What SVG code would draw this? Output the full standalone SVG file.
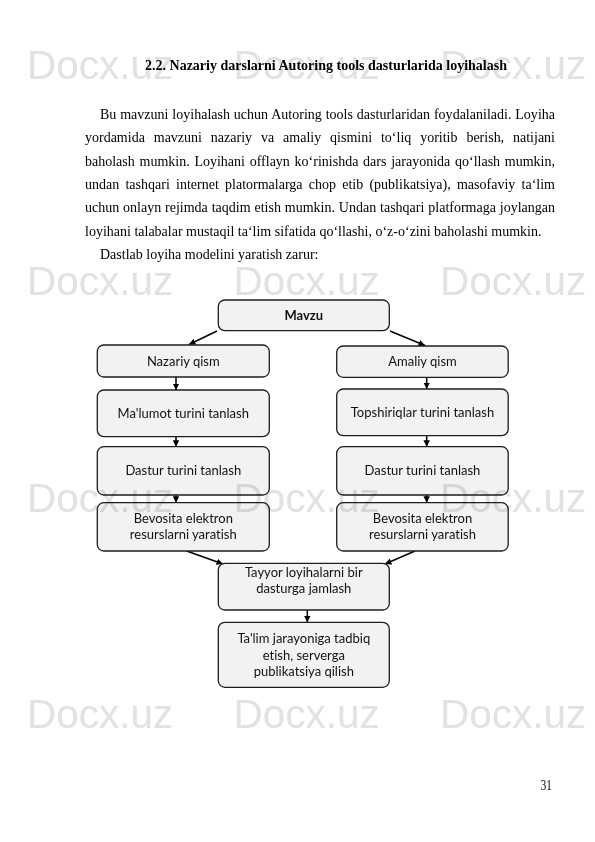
<svg xmlns="http://www.w3.org/2000/svg" width="595" height="842" viewBox="0 0 595 842">
<defs>
<style>
.body{font-family:"Liberation Serif","Times New Roman",serif;font-size:14px;fill:#000}
.title{font-family:"Liberation Serif","Times New Roman",serif;font-size:14px;font-weight:bold;fill:#000}
.box{fill:#f2f2f2;stroke:#1e1e1e;stroke-width:1.3}
.lbl{font-family:Lato,"Liberation Sans",sans-serif;font-size:13px;fill:#111;text-anchor:middle;font-variant-ligatures:none}
.bold{font-weight:bold}
.conn{stroke:#000;stroke-width:1.5;fill:none;marker-end:url(#ah)}
.wm{font-family:"Liberation Sans",Arial,sans-serif;font-size:40.5px;fill:#e2e2e2}
</style>
<marker id="ah" viewBox="0 0 8 8" refX="8" refY="4" markerWidth="6.5" markerHeight="6.5" markerUnits="userSpaceOnUse" orient="auto">
<path d="M0,0 L8,4 L0,8 z" fill="#000"/>
</marker>
</defs>
<rect x="0" y="0" width="595" height="842" fill="#fff"/>

<g id="page-text">
<text class="title" x="145" y="70" textLength="362" lengthAdjust="spacingAndGlyphs">2.2. Nazariy darslarni Autoring tools dasturlarida loyihalash</text>
<text class="body" x="100" y="119" word-spacing="0.35" textLength="455" lengthAdjust="spacing">Bu mavzuni loyihalash uchun Autoring tools dasturlaridan foydalaniladi. Loyiha</text>
<text class="body" x="85" y="142.3" word-spacing="5.4" textLength="470" lengthAdjust="spacing">yordamida mavzuni nazariy va amaliy qismini to‘liq yoritib berish, natijani</text>
<text class="body" x="85" y="165.7" word-spacing="1.2" textLength="470" lengthAdjust="spacing">baholash mumkin. Loyihani offlayn ko‘rinishda dars jarayonida qo‘llash mumkin,</text>
<text class="body" x="85" y="189" word-spacing="2.7" textLength="470" lengthAdjust="spacing">undan tashqari internet platormalarga chop etib (publikatsiya), masofaviy ta‘lim</text>
<text class="body" x="85" y="212.3" word-spacing="0.38" textLength="470" lengthAdjust="spacing">uchun onlayn rejimda taqdim etish mumkin. Undan tashqari platformaga joylangan</text>
<text class="body" x="85" y="235.7">loyihani talabalar mustaqil ta‘lim sifatida qo‘llashi, o‘z-o‘zini baholashi mumkin.</text>
<text class="body" x="100" y="259">Dastlab loyiha modelini yaratish zarur:</text>
<text class="body" x="540.7" y="790" font-size="13" textLength="11" lengthAdjust="spacingAndGlyphs">31</text>
</g>

<g id="connectors">
<path class="conn" d="M217,331 L189,344.5"/>
<path class="conn" d="M390,331 L425,345.5"/>
<path class="conn" d="M176,377 V390"/>
<path class="conn" d="M176,436.7 V446.7"/>
<path class="conn" d="M176,495 V502.7"/>
<path class="conn" d="M426.7,377.3 V389"/>
<path class="conn" d="M426.7,435.7 V446.7"/>
<path class="conn" d="M426.7,495 V502.7"/>
<path class="conn" d="M186.7,551 L223,564"/>
<path class="conn" d="M415,551 L385,564"/>
<path class="conn" d="M307.3,610 V622.3"/>
</g>

<g id="node-mavzu">
<rect class="box" x="218.3" y="300" width="171" height="30.7" rx="6.5"/>
<text class="lbl bold" x="303.8" y="320">Mavzu</text>
</g>
<g id="node-nazariy">
<rect class="box" x="97.3" y="345" width="172" height="32" rx="6.5"/>
<text class="lbl" x="183.3" y="365.5">Nazariy qism</text>
</g>
<g id="node-amaliy">
<rect class="box" x="336.7" y="346" width="171.5" height="31.3" rx="6.5"/>
<text class="lbl" x="422.5" y="366">Amaliy qism</text>
</g>
<g id="node-malumot">
<rect class="box" x="97.3" y="390" width="172" height="46.7" rx="6.5"/>
<text class="lbl" x="183.3" y="418">Ma'lumot turini tanlash</text>
</g>
<g id="node-topshiriq">
<rect class="box" x="336.7" y="389" width="171.5" height="46.7" rx="6.5"/>
<text class="lbl" x="422.5" y="417">Topshiriqlar turini tanlash</text>
</g>
<g id="node-dastur-l">
<rect class="box" x="97.3" y="446.7" width="172" height="48.3" rx="6.5"/>
<text class="lbl" x="183.3" y="475">Dastur turini tanlash</text>
</g>
<g id="node-dastur-r">
<rect class="box" x="336.7" y="446.7" width="171.5" height="48.3" rx="6.5"/>
<text class="lbl" x="422.5" y="475">Dastur turini tanlash</text>
</g>
<g id="node-bevosita-l">
<rect class="box" x="97.3" y="502.7" width="172" height="48.3" rx="6.5"/>
<text class="lbl" x="183.3" y="522.7">Bevosita elektron</text>
<text class="lbl" x="183.3" y="539.3">resurslarni yaratish</text>
</g>
<g id="node-bevosita-r">
<rect class="box" x="336.7" y="502.7" width="171.5" height="48.3" rx="6.5"/>
<text class="lbl" x="422.5" y="522.7">Bevosita elektron</text>
<text class="lbl" x="422.5" y="539.3">resurslarni yaratish</text>
</g>
<g id="node-tayyor">
<rect class="box" x="218.3" y="563.3" width="171" height="46.7" rx="6.5"/>
<text class="lbl" x="303.8" y="576.5">Tayyor loyihalarni bir</text>
<text class="lbl" x="303.8" y="593">dasturga jamlash</text>
</g>
<g id="node-talim">
<rect class="box" x="218.3" y="622.3" width="171" height="65" rx="6.5"/>
<text class="lbl" x="303.8" y="643">Ta'lim jarayoniga tadbiq</text>
<text class="lbl" x="303.8" y="659.6">etish, serverga</text>
<text class="lbl" x="303.8" y="676.3">publikatsiya qilish</text>
</g>

<g id="watermark" style="mix-blend-mode:multiply">
<text class="wm" x="27" y="78.5">Docx.uz</text>
<text class="wm" x="233.5" y="78.5">Docx.uz</text>
<text class="wm" x="440" y="78.5">Docx.uz</text>
<text class="wm" x="27" y="295">Docx.uz</text>
<text class="wm" x="233.5" y="295">Docx.uz</text>
<text class="wm" x="440" y="295">Docx.uz</text>
<text class="wm" x="27" y="511.7">Docx.uz</text>
<text class="wm" x="233.5" y="511.7">Docx.uz</text>
<text class="wm" x="440" y="511.7">Docx.uz</text>
<text class="wm" x="27" y="728.3">Docx.uz</text>
<text class="wm" x="233.5" y="728.3">Docx.uz</text>
<text class="wm" x="440" y="728.3">Docx.uz</text>
</g>
</svg>
